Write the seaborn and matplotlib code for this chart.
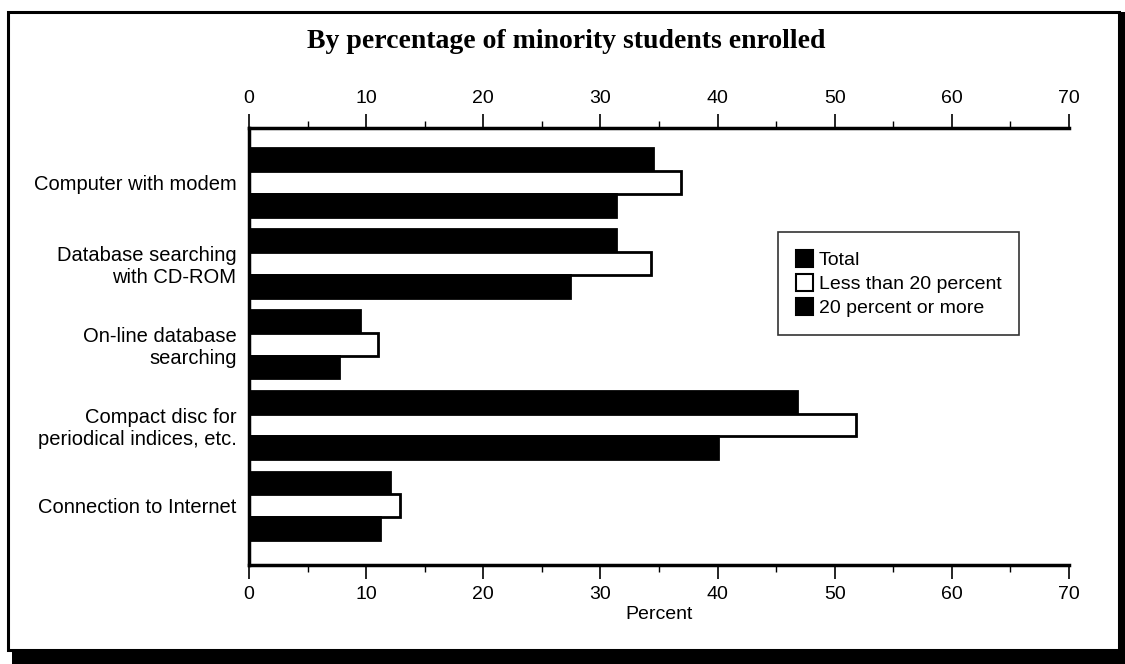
import matplotlib
matplotlib.use("Agg")
import matplotlib.pyplot as plt
from matplotlib.patches import Rectangle, Patch
from matplotlib.ticker import MultipleLocator
import seaborn as sns
import pandas as pd

categories = ["Computer with modem", "Database searching\nwith CD-ROM",
              "On-line database\nsearching", "Compact disc for\nperiodical indices, etc.",
              "Connection to Internet"]
series = ["Total", "Less than 20 percent", "20 percent or more"]
total = [34.5, 31.3, 9.5, 46.8, 12.0]
less20 = [36.9, 34.3, 11.0, 51.8, 12.9]
more20 = [31.3, 27.4, 7.7, 40.0, 11.2]
xticks = [0, 10, 20, 30, 40, 50, 60, 70]

rows = []
for s, vals in zip(series, [total, less20, more20]):
    for c, v in zip(categories, vals):
        rows.append({"Category": c, "Series": s, "Percent": v})
df = pd.DataFrame(rows)

sns.set_theme(style="white")
plt.rcParams["font.family"] = ["Liberation Sans", "DejaVu Sans"]
plt.rcParams["text.color"] = "black"
plt.rcParams["axes.labelcolor"] = "black"
plt.rcParams["xtick.color"] = "black"
plt.rcParams["ytick.color"] = "black"

fig = plt.figure(figsize=(11.25, 6.64), dpi=100)

# outer frame with shadow
fig.patches.append(Rectangle((12/1125, 0), 1 - 12/1125, 14/664, transform=fig.transFigure,
                             facecolor="black", edgecolor="none", zorder=-3))
fig.patches.append(Rectangle((1119/1125, 0), 6/1125, 1 - 12/664, transform=fig.transFigure,
                             facecolor="black", edgecolor="none", zorder=-3))
fig.patches.append(Rectangle((8/1125, 14/664), (1119 - 8)/1125, (652 - 14)/664,
                             transform=fig.transFigure, facecolor="white",
                             edgecolor="black", linewidth=2.2, zorder=-2))

ax = fig.add_axes([249/1125, (664-565)/664, (1069-249)/1125, (565-128)/664])
ax.set_facecolor("none")

palette = {"Total": "black", "Less than 20 percent": "white", "20 percent or more": "black"}
sns.barplot(data=df, y="Category", x="Percent", hue="Series", hue_order=series,
            order=categories, palette=palette, orient="h", width=0.85,
            edgecolor="black", linewidth=2.0, saturation=1, ax=ax, legend=False)

ax.set_xlim(0, 70)
ax.set_ylim(4.73, -0.67)
ax.set_xticks(xticks)
ax.xaxis.set_minor_locator(MultipleLocator(5))
ax.tick_params(axis="x", which="both", top=True, bottom=True, labeltop=True,
               labelbottom=True, direction="out", color="black", labelsize=14,
               pad=5, labelcolor="black")
ax.tick_params(axis="x", which="major", length=10, width=1.2)
ax.tick_params(axis="x", which="minor", length=5, width=1.0)
ax.tick_params(axis="y", which="both", left=False, labelsize=14.5, pad=3, labelcolor="black")
ax.set_ylabel("")
ax.set_xlabel("Percent", fontsize=14, labelpad=2, color="black")

for side in ["left", "top", "bottom"]:
    ax.spines[side].set_visible(True)
    ax.spines[side].set_color("black")
    ax.spines[side].set_linewidth(2.5)
ax.spines["right"].set_visible(False)

handles = [Patch(facecolor=palette[s], edgecolor="black", linewidth=1.5, label=s) for s in series]
leg = ax.legend(handles=handles, loc="upper left",
                bbox_to_anchor=((778-249)/820, (565-232)/437), borderaxespad=0,
                frameon=True, fontsize=14, handlelength=0.9, handleheight=1.0,
                handletextpad=0.3, labelspacing=0.25, borderpad=0.9,
                fancybox=False, edgecolor="black")
leg.get_frame().set_linewidth(1.2)
for t in leg.get_texts():
    t.set_color("black")

fig.text(0.503, 1 - 41/664, "By percentage of minority students enrolled",
         ha="center", va="center", fontsize=20, fontweight="bold", color="black",
         family=["Liberation Serif", "DejaVu Serif"])

fig.savefig("out.png", dpi=100)
